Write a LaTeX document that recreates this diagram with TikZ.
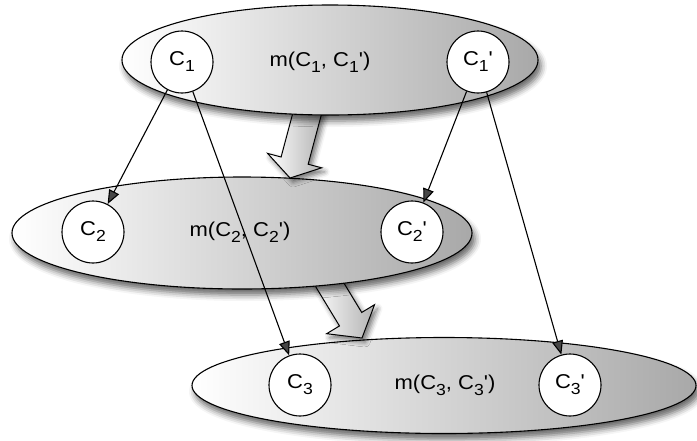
\documentclass[tikz,border=0pt]{standalone}
\usepackage{fontspec}
\setmainfont{Liberation Sans}[Ligatures=TeXOff]
\usetikzlibrary{arrows.meta,calc,shapes.geometric,shadows.blur}
\newcommand\sbs[1]{\raisebox{-0.3em}{\fontsize{16}{16}\selectfont #1}}
\newcommand\lbl[1]{\scalebox{1.1}[1]{#1}}
\tikzset{
  groupell/.style={ellipse, draw, line width=1.1pt, inner sep=0pt,
    left color=white, right color=black!34,
    blur shadow={shadow xshift=3pt, shadow yshift=-6pt, shadow blur radius=6pt, shadow opacity=60}},
  cnode/.style={circle, draw, line width=1.1pt, fill=white, minimum size=62pt, inner sep=0pt},
  txt/.style={inner sep=0pt},
  barrow/.style={draw, line width=1pt, line join=miter,
    left color=white, right color=black!30,
    blur shadow={shadow xshift=3pt, shadow yshift=-4pt, shadow blur radius=5pt, shadow opacity=55}},
  conn/.style={draw, line width=1.1pt, -{Triangle[length=14pt,width=11pt]}}
}
\begin{document}
\begin{tikzpicture}[x=1pt,y=-1pt,font=\fontsize{20}{24}\selectfont]
\useasboundingbox (0,0) rectangle (697,440);

% bottom group
\node[groupell, minimum width=504pt, minimum height=96pt] (e3) at (444,385.5) {};
\node[cnode] (c3) at (300,385) {\lbl{C\sbs{3}}};
\node[cnode] (c3p) at (570,385) {\lbl{C\sbs{3}'}};
\node[txt] (m3) at (445,385) {\lbl{m(C\sbs{3}, C\sbs{3}')}};

% block arrow 2
\coordinate (a2s) at (322,272);
\coordinate (a2e) at (362,338);
\coordinate (h2) at ($(a2e)!22pt!(a2s)$);
\path[barrow] ($(a2s)!13pt!90:(a2e)$) -- ($(h2)!13pt!90:(a2e)$) -- ($(h2)!28pt!90:(a2e)$)
  -- (a2e) -- ($(h2)!28pt!-90:(a2e)$) -- ($(h2)!13pt!-90:(a2e)$) -- ($(a2s)!13pt!-90:(a2e)$) -- cycle;

% middle group
\node[groupell, minimum width=460pt, minimum height=112pt] (e2) at (242,233) {};
\node[cnode] (c2) at (93,232) {\lbl{C\sbs{2}}};
\node[cnode] (c2p) at (412,232) {\lbl{C\sbs{2}'}};
\node[txt] (m2) at (240,232) {\lbl{m(C\sbs{2}, C\sbs{2}')}};

% block arrow 1
\coordinate (a1s) at (310,103);
\coordinate (a1e) at (290,178);
\coordinate (h1) at ($(a1e)!18pt!(a1s)$);
\path[barrow] ($(a1s)!14pt!90:(a1e)$) -- ($(h1)!14pt!90:(a1e)$) -- ($(h1)!28pt!90:(a1e)$)
  -- (a1e) -- ($(h1)!28pt!-90:(a1e)$) -- ($(h1)!14pt!-90:(a1e)$) -- ($(a1s)!14pt!-90:(a1e)$) -- cycle;

% top group
\node[groupell, minimum width=416pt, minimum height=110pt] (e1) at (330,60) {};
\node[cnode] (c1) at (182,62) {\lbl{C\sbs{1}}};
\node[cnode] (c1p) at (478,62) {\lbl{C\sbs{1}'}};
\node[txt] (m1) at (320,62) {\lbl{m(C\sbs{1}, C\sbs{1}')}};

% connectors
\draw[conn] (c1) -- (c2);
\draw[conn] (c1) -- (c3);
\draw[conn] (c1p) -- (c2p);
\draw[conn] (c1p) -- (c3p);
\end{tikzpicture}
\end{document}
